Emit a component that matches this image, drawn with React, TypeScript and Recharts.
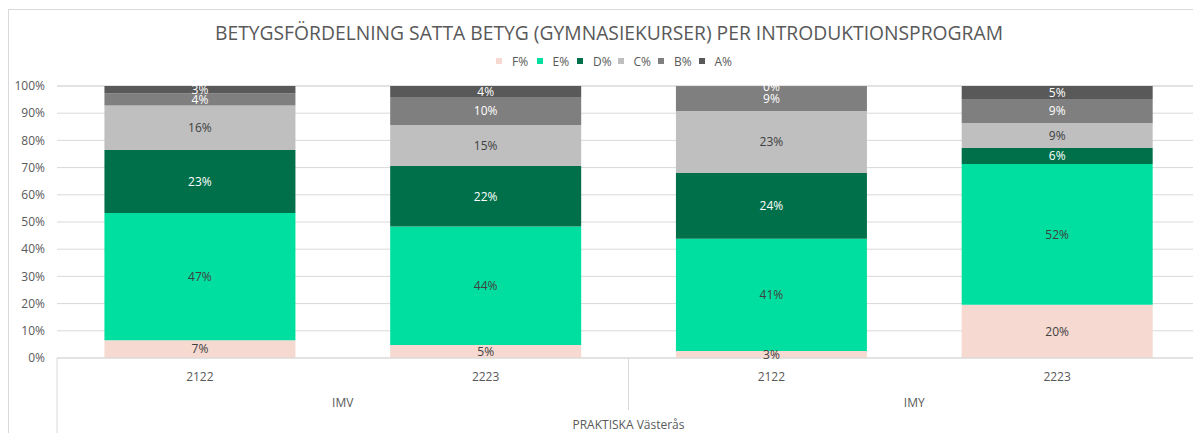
import React from 'react';
import { BarChart, Bar, XAxis, YAxis, CartesianGrid, LabelList } from 'recharts';

const categories = ['2122', '2223', '2122', '2223'];
const groups = ['IMV', 'IMV', 'IMY', 'IMY'];
const regionName = 'PRAKTISKA Västerås';
const fValues = [6.5, 4.8, 2.6, 19.6];
const eValues = [46.8, 43.5, 41.2, 51.7];
const dValues = [23.2, 22.3, 24.2, 5.9];
const cValues = [16.3, 15.1, 22.8, 9.2];
const bValues = [4.4, 10.3, 9.0, 8.8];
const aValues = [2.8, 4.0, 0.2, 4.8];
const seriesKeys = ['F', 'E', 'D', 'C', 'B', 'A'];
const seriesNames = ['F%', 'E%', 'D%', 'C%', 'B%', 'A%'];
const seriesValues = [fValues, eValues, dValues, cValues, bValues, aValues];
const seriesColors = ['#F6D9D1', '#00DF9F', '#00704A', '#BFBFBF', '#7F7F7F', '#595959'];
const labelColors = ['#404040', '#404040', '#FFFFFF', '#404040', '#FFFFFF', '#FFFFFF'];
const yTicks = [0, 10, 20, 30, 40, 50, 60, 70, 80, 90, 100];
const title = 'BETYGSFÖRDELNING SATTA BETYG (GYMNASIEKURSER) PER INTRODUKTIONSPROGRAM';

const data = categories.map((year, i) => {
  const row: any = { year, grp: groups[i], region: regionName };
  seriesKeys.forEach((k, s) => {
    row[k] = seriesValues[s][i];
  });
  return row;
});

const FONT = '"Open Sans", "DejaVu Sans", sans-serif';
const TEXT = '#595959';
const LINE = '#D9D9D9';

const CHART_W = 1240;
const CHART_H = 480;
const MARGIN = { top: 76, right: 49, left: 0, bottom: 56 };
const Y_W = 48;
const BAND = (CHART_W - MARGIN.left - MARGIN.right - Y_W) / categories.length;
const YEAR_H = 26;
const GRP_H = 26;
const REG_H = 24;

const YearTick = (props: any) => {
  const { x, y, payload } = props;
  return (
    <text x={x} y={y + 18} textAnchor="middle" dominantBaseline="central" fill={TEXT} fontSize={12} fontFamily={FONT}>
      {payload.value}
    </text>
  );
};

const GroupTick = (props: any) => {
  const { x, y, payload, index } = props;
  const top = y - YEAR_H;
  const els: any[] = [];
  if (index === 0) {
    els.push(<line key="l0" x1={x - BAND / 2} x2={x - BAND / 2} y1={top} y2={top + 200} stroke={LINE} strokeWidth={1} />);
  }
  if (index === 2) {
    els.push(<line key="l2" x1={x - BAND / 2} x2={x - BAND / 2} y1={top} y2={y + GRP_H} stroke={LINE} strokeWidth={1} />);
  }
  if (index === categories.length - 1) {
    els.push(<line key="l3" x1={x + BAND / 2} x2={x + BAND / 2} y1={top} y2={top + 200} stroke={LINE} strokeWidth={1} />);
  }
  if (index % 2 === 0) {
    els.push(
      <text key="t" x={x + BAND / 2} y={y + 18} textAnchor="middle" dominantBaseline="central" fill={TEXT} fontSize={12} fontFamily={FONT}>
        {payload.value}
      </text>
    );
  }
  return <g>{els}</g>;
};

const RegionTick = (props: any) => {
  const { x, y, payload, index } = props;
  if (index !== 1) return <g />;
  return (
    <text x={x + BAND / 2} y={y + 14} textAnchor="middle" dominantBaseline="central" fill={TEXT} fontSize={12} fontFamily={FONT}>
      {payload.value}
    </text>
  );
};

export default function App() {
  return (
    <div style={{ width: 1193, height: 425, overflow: 'hidden', position: 'relative' }}>
      <div
        style={{
          marginTop: 1,
          width: 1300,
          height: 500,
          border: `1px solid ${LINE}`,
          position: 'relative',
          background: '#fff',
        }}
      >
        <svg width={1200} height={48} style={{ position: 'absolute', left: 0, top: 0 }}>
          <text
            x={600}
            y={30}
            textAnchor="middle"
            textLength={788}
            lengthAdjust="spacingAndGlyphs"
            fontSize={20}
            fontFamily={FONT}
            fill={TEXT}
          >
            {title}
          </text>
        </svg>
        <div
          style={{
            position: 'absolute',
            left: 487,
            top: 43,
            height: 16,
            display: 'flex',
            alignItems: 'center',
            fontFamily: FONT,
            fontSize: 12,
            color: TEXT,
          }}
        >
          {seriesNames.map((n, i) => (
            <div key={n} style={{ width: 40.5, display: 'flex', alignItems: 'center' }}>
              <span style={{ width: 6, height: 6, background: seriesColors[i], display: 'inline-block', marginRight: 10 }} />
              <span>{n}</span>
            </div>
          ))}
        </div>
        <BarChart
          width={CHART_W}
          height={CHART_H}
          data={data}
          margin={MARGIN}
          barCategoryGap="16.6%"
          style={{ fontFamily: FONT }}
        >
          <CartesianGrid vertical={false} stroke={LINE} xAxisId="a_year" />
          <YAxis
            width={Y_W}
            domain={[0, 100]}
            ticks={yTicks}
            tickFormatter={(v: number) => `${v}%`}
            axisLine={false}
            tickLine={false}
            tickMargin={6}
            tick={{ fill: TEXT, fontSize: 12, fontFamily: FONT }}
          />
          <XAxis
            xAxisId="a_year"
            dataKey="year"
            height={YEAR_H}
            interval={0}
            tickSize={0}
            tickMargin={0}
            tickLine={false}
            axisLine={{ stroke: LINE }}
            tick={<YearTick />}
          />
          <XAxis
            xAxisId="b_grp"
            dataKey="grp"
            height={GRP_H}
            interval={0}
            tickSize={0}
            tickMargin={0}
            tickLine={false}
            axisLine={false}
            tick={<GroupTick />}
          />
          <XAxis
            xAxisId="c_reg"
            dataKey="region"
            height={REG_H}
            interval={0}
            tickSize={0}
            tickMargin={0}
            tickLine={false}
            axisLine={false}
            tick={<RegionTick />}
          />
          {seriesKeys.map((k, i) => (
            <Bar
              key={k}
              dataKey={k}
              name={seriesNames[i]}
              stackId="s"
              xAxisId="a_year"
              fill={seriesColors[i]}
              isAnimationActive={false}
            >
              <LabelList
                dataKey={k}
                position="center"
                formatter={(v: any) => `${Math.round(Number(v))}%`}
                fill={labelColors[i]}
                fontSize={12}
                fontFamily={FONT}
              />
            </Bar>
          ))}
        </BarChart>
      </div>
    </div>
  );
}
